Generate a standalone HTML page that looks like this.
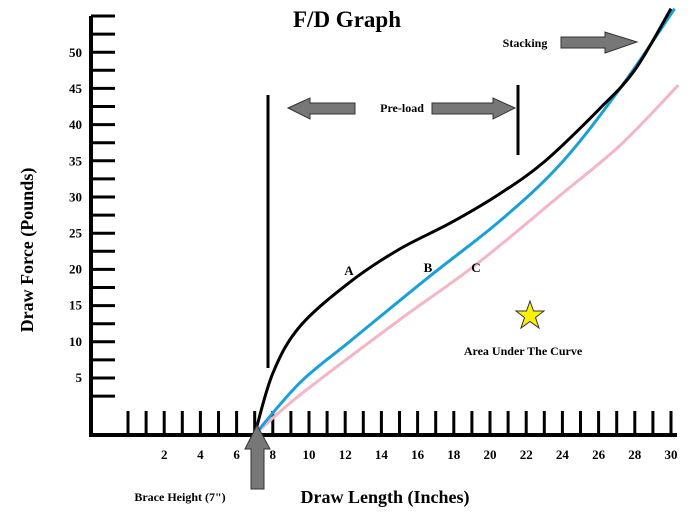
<!DOCTYPE html>
<html><head><meta charset="utf-8"><style>
body{margin:0;background:#fff}
svg{display:block;font-family:"Liberation Serif",serif;font-weight:bold}
</style></head><body>
<svg id="c" width="692" height="532" viewBox="0 0 692 532">
<text x="347" y="27" font-size="23" text-anchor="middle">F/D Graph</text>
<g id="axes"></g>
<g id="curves"></g>
<line x1="268" y1="95" x2="268" y2="368" stroke="#000" stroke-width="3"/>
<line x1="518" y1="85" x2="518" y2="155" stroke="#000" stroke-width="3"/>
<polygon points="288,108 310,98 310,103 355,103 355,114 310,114 310,119" fill="#777" stroke="#333"/>
<polygon points="515,108 493,98 493,103 432,103 432,114 493,114 493,119" fill="#777" stroke="#333"/>
<text x="402" y="112" font-size="12" text-anchor="middle">Pre-load</text>
<text x="525" y="47" font-size="12" text-anchor="middle">Stacking</text>
<polygon points="637,42 605,32 605,37 561,37 561,48 605,48 605,53" fill="#777" stroke="#333"/>
<polygon points="257,425 245,449 251,449 251,489 264,489 264,449 270,449" fill="#777" stroke="#333"/>
<text x="180" y="501" font-size="12" text-anchor="middle">Brace Height (7")</text>
<text x="385" y="503" font-size="18" text-anchor="middle">Draw Length (Inches)</text>
<text transform="translate(33,250) rotate(-90)" font-size="18" text-anchor="middle">Draw Force (Pounds)</text>
<text x="349" y="275" font-size="13" text-anchor="middle">A</text>
<text x="428" y="272" font-size="13" text-anchor="middle">B</text>
<text x="476" y="272" font-size="13" text-anchor="middle">C</text>
<polygon points="530,301 533.5,311 544,311 535.5,317.5 539,328 530,321.5 521,328 524.5,317.5 516,311 526.5,311" fill="#ffef00" stroke="#333"/>
<text x="523" y="355" font-size="12" text-anchor="middle">Area Under The Curve</text>
</svg>
<script>
const xTicks=[2,4,6,8,10,12,14,16,18,20,22,24,26,28,30];
const yTicks=[5,10,15,20,25,30,35,40,45,50];
const inches=[7,8,9.5,12.3,15,17.8,20.5,23,26,28,30];
const seriesA=[-3,5.5,12,18.2,22.7,26.3,30.3,34.8,42,47.5,56];
const inchesB=[7,9.5,12.3,16.7,20.5,23.9,27.2,30.2];
const seriesB=[-3,4.2,10,19,26.5,34.5,45,56];
const inchesC=[7,9.5,15,19.2,23.9,27.2,30.4];
const seriesC=[-3,2.5,12.9,20.5,30.2,37.1,45.4];
const X=v=>128+18.1*v, Y=v=>52+(50-v)*7.22;
const NS="http://www.w3.org/2000/svg";
const ax=document.getElementById('axes');
function mk(t,a,p){const e=document.createElementNS(NS,t);for(const k in a)e.setAttribute(k,a[k]);p.appendChild(e);return e;}
let l=mk('line',{x1:91,y1:16,x2:91,y2:437,stroke:'#000','stroke-width':4},ax);


l=mk('line',{x1:89,y1:435,x2:677,y2:435,stroke:'#000','stroke-width':4},ax);


for(let i=0;i<=21;i++){const y=16+i*18.1;if(y>420)break;
 const t=mk('line',{x1:91,y1:y,x2:115,y2:y,stroke:'#000','stroke-width':3},ax);
 
 }
for(let i=0;i<=30;i++){
 const t=mk('line',{x1:X(i),y1:411,x2:X(i),y2:435,stroke:'#000','stroke-width':3},ax);
 
 }
xTicks.forEach(v=>{const t=mk('text',{x:X(v),y:459,'font-size':13,'text-anchor':'middle'},ax);t.textContent=v;
 
 });
yTicks.forEach(v=>{const t=mk('text',{x:82,y:Y(v)+5,'font-size':13,'text-anchor':'end'},ax);t.textContent=v;
 
 });
function path(xs,ys){const p=xs.map((x,i)=>[X(x),Y(ys[i])]);let d='M'+p[0];
 for(let i=0;i<p.length-1;i++){const p0=p[i-1]||p[i],p1=p[i],p2=p[i+1],p3=p[i+2]||p2;
  d+=' C'+(p1[0]+(p2[0]-p0[0])/6)+','+(p1[1]+(p2[1]-p0[1])/6)+' '+(p2[0]-(p3[0]-p1[0])/6)+','+(p2[1]-(p3[1]-p1[1])/6)+' '+p2;}
 return d;}
const cv=document.getElementById('curves');
let c=mk('path',{d:path(inchesC,seriesC),fill:'none',stroke:'#f4b6c6','stroke-width':3},cv);


c=mk('path',{d:path(inchesB,seriesB),fill:'none',stroke:'#1aa0d8','stroke-width':3},cv);


c=mk('path',{d:path(inches,seriesA),fill:'none',stroke:'#000','stroke-width':3},cv);


</script>
</body></html>
